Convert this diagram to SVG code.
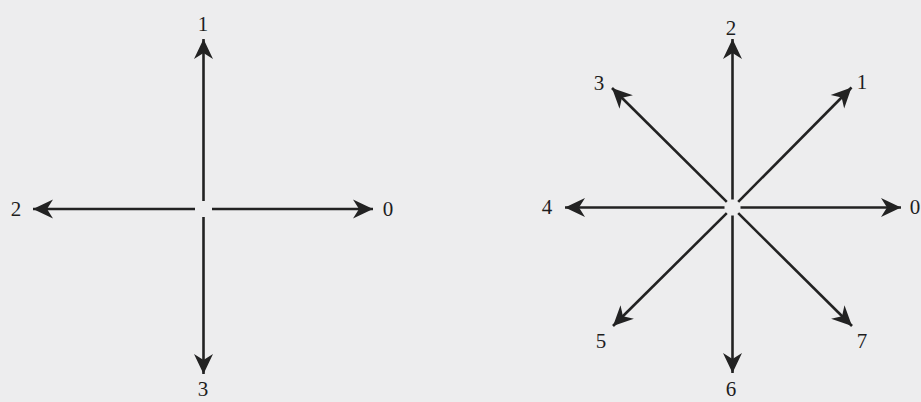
<svg xmlns="http://www.w3.org/2000/svg" width="921" height="402" viewBox="0 0 921 402">
<style>
.bg{fill:#ededee}
.ln{stroke:#222;stroke-width:2.6;fill:none;marker-end:url(#ah)}
.lb{font-family:"Liberation Serif","Times New Roman",serif;font-size:21px;fill:#1e1e1e;text-anchor:middle}
</style>
<defs>
<marker id="ah" markerUnits="userSpaceOnUse" viewBox="-22 -11 24 22" refX="0" refY="0" markerWidth="24" markerHeight="22" orient="auto">
<path d="M0,0 L-20,-9.5 L-14,0 L-20,9.5 Z" fill="#222"/>
</marker>
</defs>
<rect class="bg" x="0" y="0" width="921" height="402"/>
<g id="connectors">
<line class="ln" x1="203.5" y1="201" x2="203.5" y2="39"/>
<line class="ln" x1="203.5" y1="217" x2="203.5" y2="374"/>
<line class="ln" x1="195" y1="209" x2="33" y2="209"/>
<line class="ln" x1="212" y1="209" x2="373" y2="209"/>
<line class="ln" x1="740.5" y1="207.5" x2="901" y2="207.5"/>
<line class="ln" x1="738.2" y1="201.8" x2="851.5" y2="87.5"/>
<line class="ln" x1="732.5" y1="199.5" x2="732.5" y2="39"/>
<line class="ln" x1="726.8" y1="201.8" x2="612" y2="88"/>
<line class="ln" x1="724.5" y1="207.5" x2="565" y2="207.5"/>
<line class="ln" x1="726.8" y1="213.2" x2="613" y2="326"/>
<line class="ln" x1="732.5" y1="215.5" x2="732.5" y2="373"/>
<line class="ln" x1="738.2" y1="213.2" x2="852" y2="326"/>
</g>
<g id="left-0"><text class="lb" x="388" y="216">0</text></g>
<g id="left-1"><text class="lb" x="203" y="31">1</text></g>
<g id="left-2"><text class="lb" x="16" y="216">2</text></g>
<g id="left-3"><text class="lb" x="203" y="396">3</text></g>
<g id="right-0"><text class="lb" x="915" y="214">0</text></g>
<g id="right-1"><text class="lb" x="862" y="89">1</text></g>
<g id="right-2"><text class="lb" x="731" y="35">2</text></g>
<g id="right-3"><text class="lb" x="599" y="90">3</text></g>
<g id="right-4"><text class="lb" x="547" y="214">4</text></g>
<g id="right-5"><text class="lb" x="601" y="348">5</text></g>
<g id="right-6"><text class="lb" x="731" y="396">6</text></g>
<g id="right-7"><text class="lb" x="862" y="348">7</text></g>
</svg>
